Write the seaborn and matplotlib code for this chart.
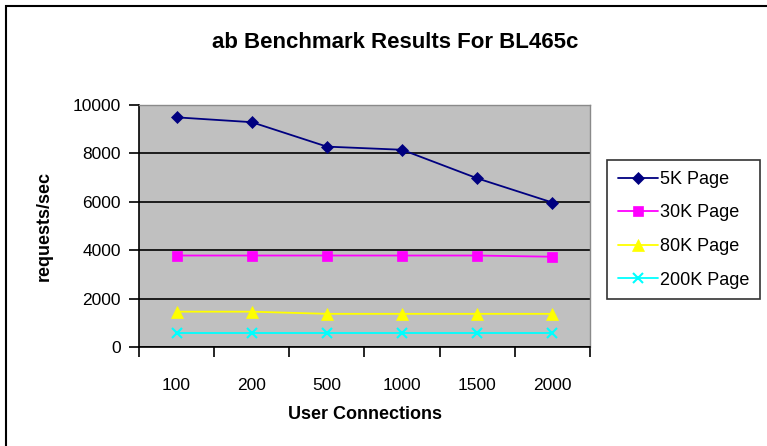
import pandas as pd
import matplotlib.pyplot as plt
import seaborn as sns
from matplotlib.patches import Rectangle

# data
connections = ['100', '200', '500', '1000', '1500', '2000']
page_5k = [9490, 9290, 8280, 8150, 6970, 5970]
page_30k = [3780, 3780, 3780, 3780, 3780, 3730]
page_80k = [1460, 1460, 1370, 1370, 1370, 1370]
page_200k = [590, 590, 590, 590, 590, 590]

series = {
    '5K Page': page_5k,
    '30K Page': page_30k,
    '80K Page': page_80k,
    '200K Page': page_200k,
}
colors = {'5K Page': '#000080', '30K Page': '#FF00FF',
          '80K Page': '#FFFF00', '200K Page': '#00FFFF'}
markers = {'5K Page': 'D', '30K Page': 's', '80K Page': '^', '200K Page': 'x'}
msizes = {'5K Page': 6, '30K Page': 7, '80K Page': 8, '200K Page': 7}

sns.set_style('white')
plt.rcParams['font.family'] = ['Liberation Sans', 'DejaVu Sans']
plt.rcParams['text.color'] = 'black'
plt.rcParams['axes.labelcolor'] = 'black'
plt.rcParams['xtick.color'] = 'black'
plt.rcParams['ytick.color'] = 'black'

fig = plt.figure(figsize=(7.67, 4.46), dpi=100)
ax = fig.add_axes([139 / 767, 1 - 347 / 446, (590 - 139) / 767, (347 - 105) / 446])
ax.set_facecolor('#C0C0C0')

for name, vals in series.items():
    df = pd.DataFrame({'conn': connections, 'val': vals})
    sns.lineplot(data=df, x='conn', y='val', ax=ax, color=colors[name],
                 marker=markers[name], markersize=msizes[name],
                 markeredgecolor=colors[name], markeredgewidth=1.5 if name == '200K Page' else 0.5,
                 linewidth=1.3, label=name, sort=False)

ax.set_xlim(-0.5, 5.5)
ax.set_ylim(0, 10000)
ax.set_yticks(range(0, 10001, 2000))
ax.yaxis.grid(True, color='black', linewidth=1.2)
ax.set_axisbelow(True)

# Excel-style category axis: ticks between categories, labels centred
ax.set_xticks([i - 0.5 for i in range(7)])
ax.set_xticklabels([])
ax.set_xticks(range(6), minor=True)
ax.set_xticklabels(connections, minor=True)
ax.tick_params(axis='x', which='major', direction='out', length=7, color='black', width=1.2, bottom=True)
ax.tick_params(axis='x', which='minor', length=0, pad=22, labelsize=12.5)
ax.tick_params(axis='y', direction='out', length=7, color='black', width=1.2, left=True, labelsize=12.5, pad=6)

for s in ['left', 'bottom']:
    ax.spines[s].set_color('black')
    ax.spines[s].set_linewidth(1.2)
for s in ['top', 'right']:
    ax.spines[s].set_color('#8a8a8a')
    ax.spines[s].set_linewidth(1)

ax.set_xlabel('User Connections', fontsize=13, fontweight='bold', labelpad=10)
ax.set_ylabel('requests/sec', fontsize=13, fontweight='bold', labelpad=14)
fig.suptitle('ab Benchmark Results For BL465c', x=395 / 767, y=1 - 42 / 446,
             va='center', fontsize=16, fontweight='bold')

ax.get_legend().remove()
handles, labels = ax.get_legend_handles_labels()
leg = fig.legend(handles, labels, loc='upper left', bbox_to_anchor=(607 / 767, 1 - 160 / 446),
                 fontsize=13, frameon=True, fancybox=False, edgecolor='black',
                 handlelength=2.2, handletextpad=0.15, labelspacing=0.92,
                 borderpad=0.6, borderaxespad=0)
leg.get_frame().set_linewidth(1.2)

# outer chart border (cut off at right and bottom in the original)
fig.patches.append(Rectangle((6 / 767, -0.1), 1.2, 1 - 6 / 446 + 0.1, transform=fig.transFigure,
                             fill=False, edgecolor='black', linewidth=1.5))

fig.savefig('out.png', dpi=100)
